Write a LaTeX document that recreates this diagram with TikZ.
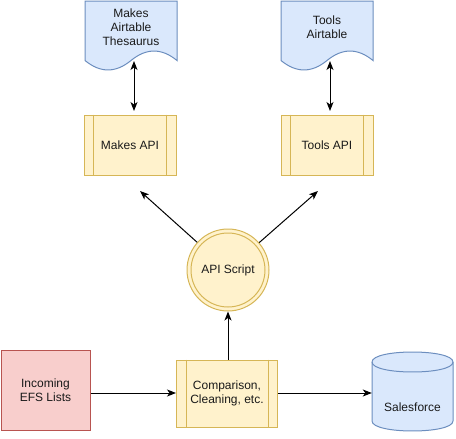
\documentclass[tikz,border=0pt]{standalone}
\usepackage{fontspec}
\setmainfont{Liberation Sans}
\usetikzlibrary{arrows.meta,calc}
\definecolor{bluefill}{HTML}{DAE8FC}
\definecolor{bluedraw}{HTML}{6C8EBF}
\definecolor{yelfill}{HTML}{FFF2CC}
\definecolor{yeldraw}{HTML}{D6B656}
\definecolor{redfill}{HTML}{F8CECC}
\definecolor{reddraw}{HTML}{B85450}
\definecolor{txt}{HTML}{1A1A1A}
\tikzset{
  lbl/.style={align=center, text=txt, font=\fontsize{12}{14}\selectfont, inner sep=0pt},
  bluestyle/.style={draw=bluedraw, fill=bluefill, line width=1pt},
  procbox/.style={draw=yeldraw, fill=yelfill, line width=1pt, rectangle, inner sep=0pt, align=center, text=txt, font=\fontsize{12}{14}\selectfont},
  inner/.style={draw=yeldraw, line width=1pt},
  redbox/.style={draw=reddraw, fill=redfill, line width=1pt, rectangle, inner sep=0pt, align=center, text=txt, font=\fontsize{12}{14}\selectfont},
  arr/.style={draw=black, line width=1pt, -{Stealth[length=9pt,width=7pt,inset=2.5pt]}},
  biarr/.style={draw=black, line width=1pt, {Stealth[length=9pt,width=7pt,inset=2.5pt]}-{Stealth[length=9pt,width=7pt,inset=2.5pt]}},
}
\begin{document}
\begin{tikzpicture}[x=1pt,y=-1pt]
\useasboundingbox[fill=white] (0,0) rectangle (456,439);

% documents
\begin{scope}[shift={(85,1)}]
\draw[bluestyle] (0,0) -- (92,0) -- (92,59.5) .. controls (76.67,46.9) and (61.33,46.9) .. (46,59.5) .. controls (30.67,72.1) and (15.33,72.1) .. (0,59.5) -- cycle;
\end{scope}
\node[lbl] (mdoc) at (131,27) {Makes\\Airtable\\Thesaurus};
\begin{scope}[shift={(281,1)}]
\draw[bluestyle] (0,0) -- (92,0) -- (92,59.5) .. controls (76.67,46.9) and (61.33,46.9) .. (46,59.5) .. controls (30.67,72.1) and (15.33,72.1) .. (0,59.5) -- cycle;
\end{scope}
\node[lbl] (tdoc) at (327,27) {Tools\\Airtable};

% API boxes
\node[procbox, minimum width=92pt, minimum height=60pt] (mapi) at (130,145) {Makes API};
\draw[inner] ([xshift=10pt]mapi.north west) -- ([xshift=10pt]mapi.south west);
\draw[inner] ([xshift=-10pt]mapi.north east) -- ([xshift=-10pt]mapi.south east);
\node[procbox, minimum width=92pt, minimum height=60pt] (tapi) at (327,145) {Tools API};
\draw[inner] ([xshift=10pt]tapi.north west) -- ([xshift=10pt]tapi.south west);
\draw[inner] ([xshift=-10pt]tapi.north east) -- ([xshift=-10pt]tapi.south east);

% API script
\node[circle, draw=yeldraw, fill=yelfill, line width=1pt, minimum size=82pt, inner sep=0pt, text=txt, font=\fontsize{12}{14}\selectfont] (api) at (228,270) {API Script};
\draw[inner] (api.center) circle (37pt);

% bottom row
\node[redbox, minimum width=89pt, minimum height=80pt] (inc) at (45.5,390) {Incoming\\EFS Lists};
\node[procbox, minimum width=101pt, minimum height=67pt] (cmp) at (227,393.5) {Comparison,\\Cleaning, etc.};
\draw[inner] ([xshift=10pt]cmp.north west) -- ([xshift=10pt]cmp.south west);
\draw[inner] ([xshift=-10pt]cmp.north east) -- ([xshift=-10pt]cmp.south east);

% cylinder
\draw[bluestyle] (372,362) .. controls (372,348.67) and (453,348.67) .. (453,362) -- (453,421) .. controls (453,434.33) and (372,434.33) .. (372,421) -- cycle;
\draw[bluestyle, fill=none] (372,362) .. controls (372,375.33) and (453,375.33) .. (453,362);
\node[minimum width=81pt, minimum height=79pt, inner sep=0pt] (sf) at (412.5,391.5) {};
\node[lbl] (sft) at (412.5,407) {Salesforce};

% coordinates for free ends
\coordinate (m1) at (134,61);
\coordinate (m2) at (134,111);
\coordinate (t1) at (330,61);
\coordinate (t2) at (330,111);
\coordinate (ma) at (140,191);
\coordinate (ta) at (318,191);

% connectors
\draw[biarr] (m1) -- (m2);
\draw[biarr] (t1) -- (t2);
\draw[arr] (api) -- (ma);
\draw[arr] (api) -- (ta);
\draw[arr] (cmp.north -| api) -- (api.south);
\draw[arr] (inc.east |- 0,393) -- (cmp.west |- 0,393);
\draw[arr] (cmp.east |- 0,393) -- (sf.west |- 0,393);
\end{tikzpicture}
\end{document}
